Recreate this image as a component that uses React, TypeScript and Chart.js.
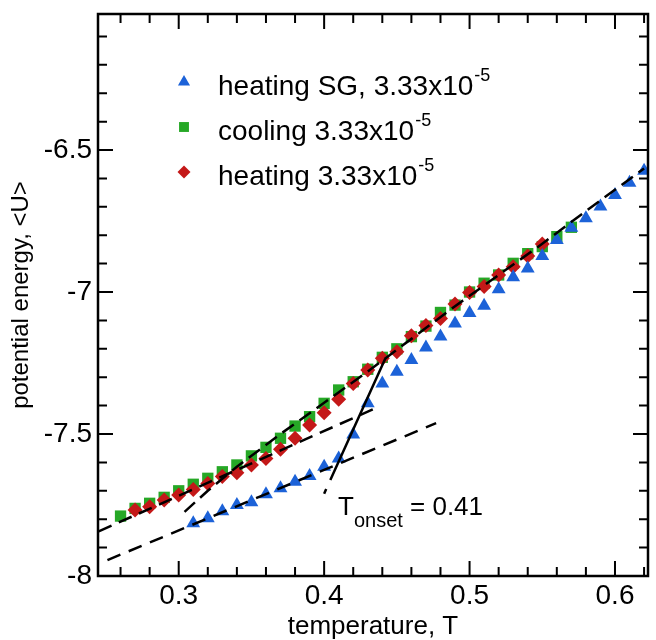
import React, { useEffect, useRef } from "react";
import { Chart, registerables } from "chart.js";

Chart.register(...registerables);

// ---- data ----
const heatingSGTemp = [0.31, 0.32, 0.33, 0.34, 0.35, 0.36, 0.37, 0.38, 0.39, 0.40, 0.41, 0.42, 0.43, 0.44, 0.45, 0.46, 0.47, 0.48, 0.49, 0.50, 0.51, 0.52, 0.53, 0.54, 0.55, 0.56, 0.57, 0.58, 0.59, 0.60, 0.61, 0.62];
const heatingSGEnergy = [-7.814, -7.797, -7.772, -7.750, -7.740, -7.712, -7.691, -7.668, -7.648, -7.615, -7.586, -7.502, -7.392, -7.322, -7.281, -7.239, -7.195, -7.157, -7.111, -7.074, -7.048, -6.990, -6.948, -6.917, -6.873, -6.817, -6.774, -6.740, -6.699, -6.658, -6.615, -6.573];

const coolingTemp = [0.26, 0.27, 0.28, 0.29, 0.30, 0.31, 0.32, 0.33, 0.34, 0.35, 0.36, 0.37, 0.38, 0.39, 0.40, 0.41, 0.42, 0.43, 0.44, 0.45, 0.46, 0.47, 0.48, 0.49, 0.50, 0.51, 0.52, 0.53, 0.54, 0.55, 0.56, 0.57];
const coolingEnergy = [-7.789, -7.762, -7.744, -7.723, -7.700, -7.677, -7.656, -7.633, -7.609, -7.577, -7.547, -7.515, -7.472, -7.439, -7.392, -7.345, -7.316, -7.272, -7.230, -7.200, -7.157, -7.120, -7.072, -7.046, -7.000, -6.969, -6.940, -6.899, -6.865, -6.840, -6.805, -6.772];

const heatingTemp = [0.27, 0.28, 0.29, 0.30, 0.31, 0.32, 0.33, 0.34, 0.35, 0.36, 0.37, 0.38, 0.39, 0.40, 0.41, 0.42, 0.43, 0.44, 0.45, 0.46, 0.47, 0.48, 0.49, 0.50, 0.51, 0.52, 0.53, 0.54, 0.55];
const heatingEnergy = [-7.768, -7.756, -7.732, -7.715, -7.695, -7.674, -7.650, -7.636, -7.609, -7.586, -7.554, -7.515, -7.468, -7.425, -7.378, -7.322, -7.275, -7.233, -7.210, -7.154, -7.118, -7.093, -7.042, -7.002, -6.981, -6.940, -6.911, -6.873, -6.831];

// dashed guide lines
const liquidFitTemp = [0.304, 0.32, 0.34, 0.37, 0.40, 0.43, 0.46, 0.49, 0.52, 0.55, 0.58, 0.62];
const liquidFitEnergy = [-7.774, -7.700, -7.615, -7.500, -7.390, -7.280, -7.165, -7.050, -6.940, -6.830, -6.715, -6.565];
const glassFitTemp = [0.245, 0.437];
const glassFitEnergy = [-7.843, -7.405];
const sgGlassFitTemp = [0.251, 0.477];
const sgGlassFitEnergy = [-7.944, -7.462];
const sgJumpFitTemp = [0.400, 0.442];
const sgJumpFitEnergy = [-7.710, -7.235];

// axes
const xMin = 0.2445;
const xMax = 0.6227;
const yMin = -8;
const yMax = -6.021;
const xMajorTicks = [0.3, 0.4, 0.5, 0.6];
const xMinorTicks = [0.26, 0.28, 0.32, 0.34, 0.36, 0.38, 0.42, 0.44, 0.46, 0.48, 0.52, 0.54, 0.56, 0.58, 0.62];
const yMajorTicks = [-8, -7.5, -7, -6.5];
const yMinorTicks = [-7.9, -7.8, -7.7, -7.6, -7.4, -7.3, -7.2, -7.1, -6.9, -6.8, -6.7, -6.6, -6.4, -6.3, -6.2, -6.1];

const legendLabels = ["heating SG, 3.33x10", "cooling 3.33x10", "heating 3.33x10"];
const legendSup = "-5";
const annotationMain = "T";
const annotationSub = "onset";
const annotationTail = " = 0.41";

const BLUE = "#1c62d8";
const GREEN = "#26a826";
const RED = "#c41818";
const FONT = '"Liberation Sans", Arial, Helvetica, sans-serif';

const toPoints = (xs: number[], ys: number[]) => xs.map((x, i) => ({ x, y: ys[i] }));

function drawMarker(ctx: CanvasRenderingContext2D, style: string, x: number, y: number, r: number) {
  ctx.beginPath();
  if (style === "triangle") {
    ctx.moveTo(x, y - r);
    ctx.lineTo(x + r * Math.sin((2 * Math.PI) / 3), y - r * Math.cos((2 * Math.PI) / 3));
    ctx.lineTo(x + r * Math.sin((4 * Math.PI) / 3), y - r * Math.cos((4 * Math.PI) / 3));
    ctx.closePath();
  } else if (style === "rect") {
    const s = r * Math.SQRT1_2;
    ctx.rect(x - s, y - s, 2 * s, 2 * s);
  } else {
    ctx.moveTo(x - r, y);
    ctx.lineTo(x, y - r);
    ctx.lineTo(x + r, y);
    ctx.lineTo(x, y + r);
    ctx.closePath();
  }
  ctx.fill();
}

const framePlugin = {
  id: "framePlugin",
  afterDraw(chart: any) {
    const { ctx, chartArea } = chart;
    const xs = chart.scales.x;
    const ys = chart.scales.y;
    const { left, right, top, bottom } = chartArea;
    ctx.save();
    ctx.strokeStyle = "#000";
    ctx.lineWidth = 2;
    const major = 15;
    const minor = 9;
    const xt = (v: number, len: number) => {
      const px = xs.getPixelForValue(v);
      ctx.beginPath();
      ctx.moveTo(px, bottom);
      ctx.lineTo(px, bottom - len);
      ctx.moveTo(px, top);
      ctx.lineTo(px, top + len);
      ctx.stroke();
    };
    const yt = (v: number, len: number) => {
      const py = ys.getPixelForValue(v);
      ctx.beginPath();
      ctx.moveTo(left, py);
      ctx.lineTo(left + len, py);
      ctx.moveTo(right, py);
      ctx.lineTo(right - len, py);
      ctx.stroke();
    };
    xMajorTicks.forEach((v) => xt(v, major));
    xMinorTicks.forEach((v) => xt(v, minor));
    yMajorTicks.forEach((v) => yt(v, major));
    yMinorTicks.forEach((v) => yt(v, minor));
    ctx.lineWidth = 2.5;
    ctx.strokeRect(left, top, right - left, bottom - top);

    // legend
    const styles = ["triangle", "rect", "rectRot"];
    const colors = [BLUE, GREEN, RED];
    const radii = [7, 7, 6.5];
    const baselines = [95, 140, 185];
    const markerX = left + 86;
    const textX = left + 120;
    ctx.textBaseline = "alphabetic";
    ctx.textAlign = "left";
    legendLabels.forEach((label, i) => {
      ctx.fillStyle = colors[i];
      drawMarker(ctx, styles[i], markerX, baselines[i] - 13, radii[i]);
      ctx.fillStyle = "#000";
      ctx.font = `28px ${FONT}`;
      ctx.fillText(label, textX, baselines[i]);
      const w = ctx.measureText(label).width;
      ctx.font = `18px ${FONT}`;
      ctx.fillText(legendSup, textX + w + 1, baselines[i] - 14);
    });

    // T_onset annotation
    const ax = 338;
    const ab = 515;
    ctx.font = `26px ${FONT}`;
    ctx.fillText(annotationMain, ax, ab);
    const tw = ctx.measureText(annotationMain).width;
    ctx.font = `20px ${FONT}`;
    ctx.fillText(annotationSub, ax + tw, ab + 12);
    const sw = ctx.measureText(annotationSub).width;
    ctx.font = `26px ${FONT}`;
    ctx.fillText(annotationTail, ax + tw + sw, ab);
    ctx.restore();
  },
};

export default function App() {
  const ref = useRef<HTMLCanvasElement>(null);
  useEffect(() => {
    if (!ref.current) return;
    const dashed = (xs: number[], ys: number[], dash: number[]) => ({
      type: "line" as const,
      data: toPoints(xs, ys),
      borderColor: "#000",
      borderWidth: 2.5,
      borderDash: dash,
      pointRadius: 0,
      showLine: true,
      fill: false,
      tension: 0,
      order: 0,
    });
    const chart = new Chart(ref.current, {
      type: "scatter",
      data: {
        datasets: [
          dashed(liquidFitTemp, liquidFitEnergy, [14, 7]),
          dashed(glassFitTemp, glassFitEnergy, [14, 8]),
          dashed(sgGlassFitTemp, sgGlassFitEnergy, [14, 9]),
          dashed(sgJumpFitTemp, sgJumpFitEnergy, [5, 10, 300]),
          {
            label: "heating SG, 3.33x10⁻⁵",
            data: toPoints(heatingSGTemp, heatingSGEnergy),
            pointStyle: "triangle",
            pointRadius: 8,
            backgroundColor: BLUE,
            borderColor: BLUE,
            borderWidth: 0,
            order: 1,
          },
          {
            label: "heating 3.33x10⁻⁵",
            data: toPoints(heatingTemp, heatingEnergy),
            pointStyle: "rectRot",
            pointRadius: 7.5,
            backgroundColor: RED,
            borderColor: RED,
            borderWidth: 0,
            order: 2,
          },
          {
            label: "cooling 3.33x10⁻⁵",
            data: toPoints(coolingTemp, coolingEnergy),
            pointStyle: "rect",
            pointRadius: 8,
            backgroundColor: GREEN,
            borderColor: GREEN,
            borderWidth: 0,
            order: 3,
          },
        ] as any,
      },
      options: {
        animation: false,
        responsive: false,
        devicePixelRatio: 1,
        layout: { padding: { top: 14, right: 0, left: 0, bottom: 0 } },
        plugins: { legend: { display: false }, tooltip: { enabled: false } },
        scales: {
          x: {
            type: "linear",
            min: xMin,
            max: xMax,
            afterBuildTicks: (s: any) => {
              s.ticks = xMajorTicks.map((v) => ({ value: v }));
            },
            afterFit: (s: any) => {
              s.height = 64;
              s.paddingLeft = 0;
              s.paddingRight = 0;
            },
            grid: { display: false, drawTicks: false },
            border: { display: false },
            ticks: {
              color: "#000",
              padding: 3,
              maxRotation: 0,
              autoSkip: false,
              font: { family: FONT, size: 28 },
              callback: (v: any) => String(v),
            },
            title: {
              display: true,
              text: "temperature, T",
              color: "#000",
              font: { family: FONT, size: 26, lineHeight: 1 },
              padding: 0,
            },
          },
          y: {
            type: "linear",
            min: yMin,
            max: yMax,
            afterBuildTicks: (s: any) => {
              s.ticks = yMajorTicks.map((v) => ({ value: v }));
            },
            afterFit: (s: any) => {
              s.width = 98;
              s.paddingTop = 0;
              s.paddingBottom = 0;
            },
            grid: { display: false, drawTicks: false },
            border: { display: false },
            ticks: {
              color: "#000",
              padding: 6,
              autoSkip: false,
              font: { family: FONT, size: 28 },
              callback: (v: any) => String(v),
            },
            title: {
              display: true,
              text: "potential energy, <U>",
              color: "#000",
              font: { family: FONT, size: 24, lineHeight: 1.2 },
              padding: { top: 7, bottom: 0 },
            },
          },
        },
      },
      plugins: [framePlugin],
    } as any);
    return () => chart.destroy();
  }, []);
  return (
    <div style={{ position: "absolute", left: 0, top: 0, width: 656, height: 640, background: "#fff" }}>
      <canvas ref={ref} width={656} height={640} style={{ display: "block", width: 656, height: 640 }} />
    </div>
  );
}
